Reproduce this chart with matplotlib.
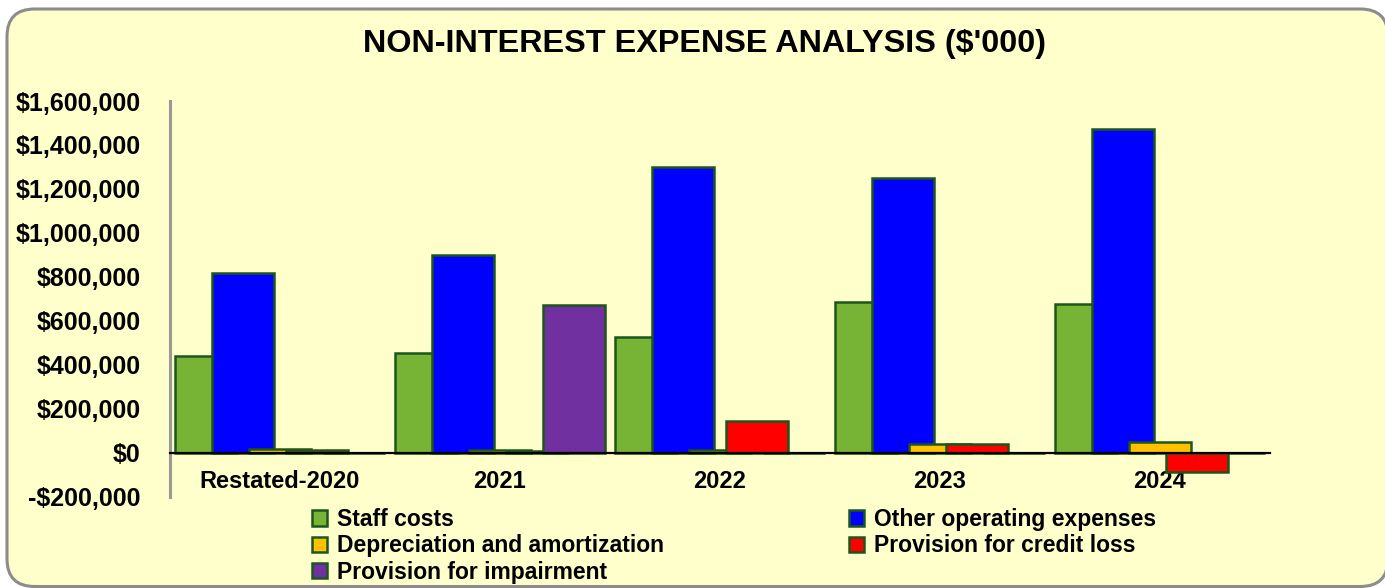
import matplotlib.pyplot as plt
from matplotlib.patches import FancyBboxPatch
from matplotlib.ticker import FuncFormatter
import numpy as np

plt.rcParams["font.family"] = ["Liberation Sans", "DejaVu Sans"]
plt.rcParams["font.weight"] = "bold"

categories = ["Restated-2020", "2021", "2022", "2023", "2024"]
series_names = ["Staff costs", "Other operating expenses", "Depreciation and amortization",
                "Provision for credit loss", "Provision for impairment"]
staff_costs = [441000, 455000, 527000, 686000, 677000]
other_opex = [818000, 900000, 1300000, 1250000, 1473000]
depreciation = [18000, 14000, 12000, 41000, 52000]
credit_loss = [14000, 8000, 145000, 41000, -86000]
impairment = [2000, 673000, 0, 0, 0]
colors = ["#77B334", "#0000FF", "#FFC000", "#FF0000", "#7030A0"]
edge = "#1C561C"

fig = plt.figure(figsize=(13.85, 5.88), dpi=100)
fig.patch.set_facecolor("white")
frame = FancyBboxPatch((7 / 1385, 1.5 / 588), 1381 / 1385, 577.5 / 588,
                       boxstyle="round,pad=0,rounding_size=0.02", transform=fig.transFigure,
                       facecolor="#FFFFCC", edgecolor="#8C8C8C", linewidth=2.2,
                       mutation_aspect=1385 / 588, zorder=0)
fig.patches.append(frame)

ax = fig.add_axes([170 / 1385, 1 - 497 / 588, 1100 / 1385, 396 / 588])
ax.set_facecolor("none")
ax.set_zorder(2)

values = [staff_costs, other_opex, depreciation, credit_loss, impairment]
x = np.arange(len(categories))
step = 0.168
width = 0.282
for k, (name, vals, c) in enumerate(zip(series_names, values, colors)):
    ax.bar(x + (k - 2) * step, vals, width=width, color=c, edgecolor=edge,
           linewidth=1.8, label=name, zorder=2 + k)

ax.set_xlim(-0.5, 4.5)
ax.set_ylim(-200000, 1600000)
ax.set_yticks(np.arange(-200000, 1600001, 200000))
ax.yaxis.set_major_formatter(FuncFormatter(lambda v, p: f"-${abs(v):,.0f}" if v < 0 else f"${v:,.0f}"))
ax.set_xticks(x)
ax.set_xticklabels(categories)

for s in ["top", "right"]:
    ax.spines[s].set_visible(False)
ax.spines["bottom"].set_position(("data", 0))
ax.spines["bottom"].set_color("black")
ax.spines["bottom"].set_linewidth(1.6)
ax.spines["bottom"].set_zorder(10)
ax.spines["left"].set_color("#999999")
ax.spines["left"].set_linewidth(2.2)
ax.tick_params(axis="y", length=0, pad=21, labelsize=18)
ax.tick_params(axis="x", length=0, pad=12, labelsize=17)
for t in ax.get_xticklabels() + ax.get_yticklabels():
    t.set_fontweight("bold")

fig.text(0.509, 1 - 44 / 588, "NON-INTEREST EXPENSE ANALYSIS ($'000)", ha="center", va="center",
         fontsize=23.3, fontweight="bold")

handles, labels = ax.get_legend_handles_labels()
order = [0, 2, 4, 1, 3]
leg = fig.legend([handles[i] for i in order], [labels[i] for i in order], ncol=2,
                 loc="upper left", bbox_to_anchor=(312 / 1385, 1 - 508 / 588),
                 frameon=False, fontsize=16.5, handlelength=0.65, handleheight=0.65,
                 handletextpad=0.45, columnspacing=8.05, labelspacing=0.15,
                 borderpad=0, borderaxespad=0)
for t in leg.get_texts():
    t.set_fontweight("bold")

plt.savefig("out.png", dpi=100)
